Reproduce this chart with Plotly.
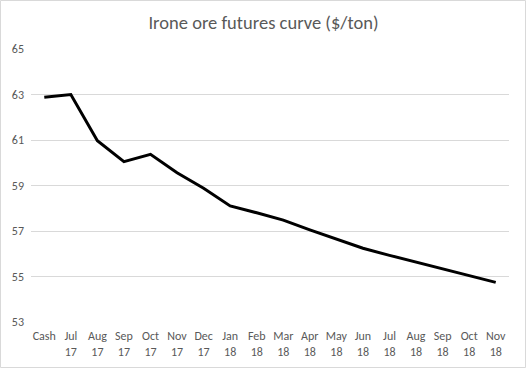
import plotly.graph_objects as go

categories = ["Cash", "Jul<br>17", "Aug<br>17", "Sep<br>17", "Oct<br>17", "Nov<br>17", "Dec<br>17",
              "Jan<br>18", "Feb<br>18", "Mar<br>18", "Apr<br>18", "May<br>18", "Jun<br>18",
              "Jul<br>18", "Aug<br>18", "Sep<br>18", "Oct<br>18", "Nov<br>18"]
prices = [62.88, 63.0, 60.97, 60.05, 60.37, 59.56, 58.88, 58.1, 57.8, 57.48, 57.05, 56.65, 56.24,
          55.93, 55.63, 55.33, 55.03, 54.74]
y_ticks = [53, 55, 57, 59, 61, 63, 65]

W, H = 527, 369
ml, mr, mt, mb = 31, 18, 49, 47

fig = go.Figure()
fig.add_trace(go.Scatter(x=categories, y=prices, mode="lines",
                         line=dict(color="#000000", width=3), hoverinfo="skip"))

fig.update_layout(
    width=W, height=H,
    margin=dict(l=ml, r=mr, t=mt, b=mb, autoexpand=False),
    paper_bgcolor="white", plot_bgcolor="white",
    showlegend=False,
    font=dict(family="Carlito, Lato, sans-serif", color="#595959", size=12),
    title=dict(text="Irone ore futures curve ($/ton)", x=0.5, xanchor="center",
               y=1 - 23 / H, yanchor="middle",
               font=dict(size=18.5, color="#595959")),
    xaxis=dict(type="category", showgrid=False, zeroline=False, automargin=False,
               showline=False, ticks="", tickfont=dict(size=12, color="#595959"),
               ticklabelstandoff=5, range=[-0.5, len(categories) - 0.5]),
    yaxis=dict(range=[53, 65], tickvals=y_ticks, showgrid=True, gridcolor="#d9d9d9",
               gridwidth=1, zeroline=False, showline=False, ticks="", automargin=False,
               ticklabelstandoff=6, tickfont=dict(size=12, color="#595959")),
    shapes=[dict(type="rect", xref="paper", yref="paper",
                 x0=-(ml - 0.5) / (W - ml - mr), x1=1 + (mr - 1.5) / (W - ml - mr),
                 y0=-(mb - 1.5) / (H - mt - mb), y1=1 + (mt - 0.5) / (H - mt - mb),
                 line=dict(color="#d9d9d9", width=1), fillcolor="rgba(0,0,0,0)", layer="below")],
)

fig.write_html("out.html", config={"displayModeBar": False},
               post_script="document.body.style.margin='0';document.body.style.overflow='hidden';")
